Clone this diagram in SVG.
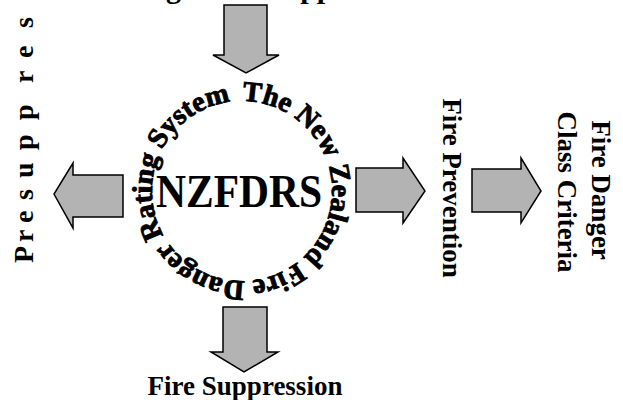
<svg xmlns="http://www.w3.org/2000/svg" width="623" height="400" viewBox="0 0 623 400">
<style>
.arrow{fill:#b3b3b3;stroke:#000;stroke-width:1.5;stroke-linejoin:miter}
.lbl{font-family:"Liberation Serif","Times New Roman",serif;font-weight:bold;fill:#000}
.ring{stroke:#000;stroke-width:0.9}
</style>
<defs>
<path id="ring" d="M 242,101 a 90,90 0 1,1 0,180 a 90,90 0 1,1 0,-180"/>
</defs>
<rect width="623" height="400" fill="#fff"/>
<g id="connectors">
<polygon class="arrow" points="224,5 267,5 267,55 279,55 246,73 213,55 224,55"/>
<polygon class="arrow" points="223,307 267,307 267,352 278,352 244,372 211,352 223,352"/>
<polygon class="arrow" points="123,175 123,217 73,217 73,228 54,194 73,163 73,175"/>
<polygon class="arrow" points="356,168 403,168 403,158 425,191 403,223 403,212 356,212"/>
<polygon class="arrow" points="472,169 521,169 521,158 541,191 521,223 521,212 472,212"/>
</g>
<g id="top-label">
<text class="lbl" x="91" y="-2" font-size="30">Management Suppression</text>
</g>
<g id="nzfdrs">
<text class="lbl ring" font-size="28.5"><textPath href="#ring">The New Zealand Fire Danger Rating System</textPath></text>
<text class="lbl" x="239" y="207" font-size="46" text-anchor="middle" textLength="166" lengthAdjust="spacingAndGlyphs">NZFDRS</text>
</g>
<g id="presuppression">
<text class="lbl" font-size="28" transform="translate(33,0) rotate(-90)" x="-263 -242 -223 -200 -178 -150 -120 -83 -58 -28" y="0">Presuppres</text>
</g>
<g id="fire-prevention">
<text class="lbl" font-size="27" text-anchor="middle" transform="translate(443,188) rotate(90)">Fire Prevention</text>
</g>
<g id="fire-danger-class">
<text class="lbl" font-size="27" text-anchor="middle" transform="translate(592,190) rotate(90)">Fire Danger</text>
<text class="lbl" font-size="27" text-anchor="middle" transform="translate(558,192) rotate(90)">Class Criteria</text>
</g>
<g id="fire-suppression">
<text class="lbl" x="245" y="395" font-size="27" text-anchor="middle">Fire Suppression</text>
</g>
</svg>
